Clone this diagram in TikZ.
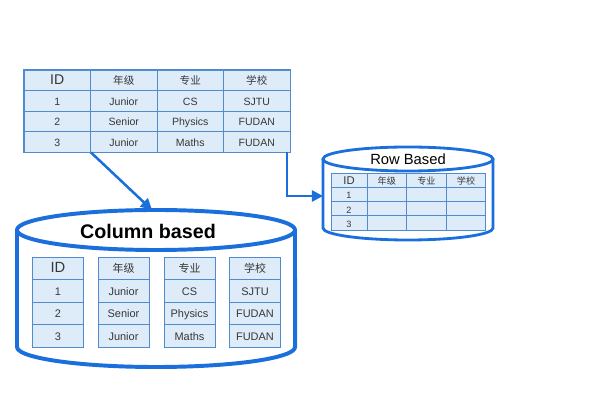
\documentclass[tikz,border=0pt]{standalone}
\usepackage{fontspec}
\setmainfont{Liberation Sans}
\newfontfamily\cjk{Noto Sans CJK SC}
\usepackage{tikz}
\usetikzlibrary{arrows.meta}
\definecolor{cyl_blue}{RGB}{26,111,220}
\definecolor{cell_blue}{RGB}{222,236,249}
\definecolor{line_blue}{RGB}{80,140,205}
\definecolor{text_grey}{RGB}{55,55,55}
\tikzstyle{cell}=[rectangle,fill=cell_blue,draw=line_blue,line width=0.6pt,
  inner sep=0pt,text=text_grey,text height=1.55ex,text depth=0.35ex]
\tikzstyle{tc}=[cell,minimum width=1.6625cm,minimum height=0.5125cm,
  font=\fontsize{7.5}{9}\selectfont]
\tikzstyle{rc}=[cell,minimum width=0.99cm,minimum height=0.356cm,
  font=\fontsize{6.5}{8}\selectfont]
\tikzstyle{rid}=[rc,minimum width=0.9cm]
\tikzstyle{cc}=[cell,minimum width=1.275cm,minimum height=0.5625cm,
  font=\fontsize{7.8}{9}\selectfont]
\tikzstyle{cylcol}=[draw=cyl_blue,fill=white,line width=2.8pt]
\tikzstyle{cylrow}=[draw=cyl_blue,fill=white,line width=2pt]
\tikzstyle{frame}=[draw=line_blue,line width=1pt]
\tikzstyle{arr}=[draw=cyl_blue,line width=1.8pt,-{Triangle[length=8pt,width=8pt]}]
\begin{document}
\begin{tikzpicture}[x=0.025cm,y=0.025cm]
        \useasboundingbox (0,0) rectangle (600,400);
        % source table
        \node [style=tc,font=\fontsize{10}{12}\selectfont] (t00) at (57.25,319.75) {ID};
        \node [style=tc] (t01) at (123.75,319.75) {\cjk 年级};
        \node [style=tc] (t02) at (190.25,319.75) {\cjk 专业};
        \node [style=tc] (t03) at (256.75,319.75) {\cjk 学校};
        \node [style=tc] (t10) at (57.25,299.25) {1};
        \node [style=tc] (t11) at (123.75,299.25) {Junior};
        \node [style=tc] (t12) at (190.25,299.25) {CS};
        \node [style=tc] (t13) at (256.75,299.25) {SJTU};
        \node [style=tc] (t20) at (57.25,278.75) {2};
        \node [style=tc] (t21) at (123.75,278.75) {Senior};
        \node [style=tc] (t22) at (190.25,278.75) {Physics};
        \node [style=tc] (t23) at (256.75,278.75) {FUDAN};
        \node [style=tc] (t30) at (57.25,258.25) {3};
        \node [style=tc] (t31) at (123.75,258.25) {Junior};
        \node [style=tc] (t32) at (190.25,258.25) {Maths};
        \node [style=tc] (t33) at (256.75,258.25) {FUDAN};
        \draw [style=frame] (t00.north west) rectangle (t33.south east);

        % row based store
        \draw [style=cylrow] (323,241) -- (323,172) arc (180:360:2.125cm and 0.3cm) -- (493,241);
        \draw [style=cylrow] (408,241) ellipse (2.125cm and 0.3cm);
        \node [font=\fontsize{10.5}{12}\selectfont] (rowtitle) at (408,241) {Row Based};
        \node [style=rid,font=\fontsize{8}{9}\selectfont] (r00) at (349,219.9) {ID};
        \node [style=rc] (r01) at (386.8,219.9) {\cjk 年级};
        \node [style=rc] (r02) at (426.4,219.9) {\cjk 专业};
        \node [style=rc] (r03) at (466,219.9) {\cjk 学校};
        \node [style=rid] (r10) at (349,205.6) {1};
        \node [style=rc] (r11) at (386.8,205.6) {};
        \node [style=rc] (r12) at (426.4,205.6) {};
        \node [style=rc] (r13) at (466,205.6) {};
        \node [style=rid] (r20) at (349,191.4) {2};
        \node [style=rc] (r21) at (386.8,191.4) {};
        \node [style=rc] (r22) at (426.4,191.4) {};
        \node [style=rc] (r23) at (466,191.4) {};
        \node [style=rid] (r30) at (349,177.1) {3};
        \node [style=rc] (r31) at (386.8,177.1) {};
        \node [style=rc] (r32) at (426.4,177.1) {};
        \node [style=rc] (r33) at (466,177.1) {};

        % column based store
        \draw [style=cylcol] (17,170) -- (17,53) arc (180:360:3.475cm and 0.5cm) -- (295,170);
        \draw [style=cylcol] (156,170) ellipse (3.475cm and 0.5cm);
        \node [font=\fontsize{14}{17}\selectfont\bfseries] (coltitle) at (148,169) {Column based};
        \node [style=cc,font=\fontsize{10.5}{12}\selectfont] (c00) at (58,131.75) {ID};
        \node [style=cc] (c10) at (58,109.25) {1};
        \node [style=cc] (c20) at (58,86.75) {2};
        \node [style=cc] (c30) at (58,64.25) {3};
        \node [style=cc] (c01) at (123.5,131.75) {\cjk 年级};
        \node [style=cc] (c11) at (123.5,109.25) {Junior};
        \node [style=cc] (c21) at (123.5,86.75) {Senior};
        \node [style=cc] (c31) at (123.5,64.25) {Junior};
        \node [style=cc] (c02) at (189.5,131.75) {\cjk 专业};
        \node [style=cc] (c12) at (189.5,109.25) {CS};
        \node [style=cc] (c22) at (189.5,86.75) {Physics};
        \node [style=cc] (c32) at (189.5,64.25) {Maths};
        \node [style=cc] (c03) at (255,131.75) {\cjk 学校};
        \node [style=cc] (c13) at (255,109.25) {SJTU};
        \node [style=cc] (c23) at (255,86.75) {FUDAN};
        \node [style=cc] (c33) at (255,64.25) {FUDAN};

        % arrows
        \coordinate (coltop) at (152,190);
        \coordinate (rowout) at (287,248);
        \coordinate (rowin) at (323,204);
        \draw [style=arr] (t30.south east) to (coltop);
        \draw [style=arr] (rowout) |- (rowin);
    \end{tikzpicture}
\end{document}
